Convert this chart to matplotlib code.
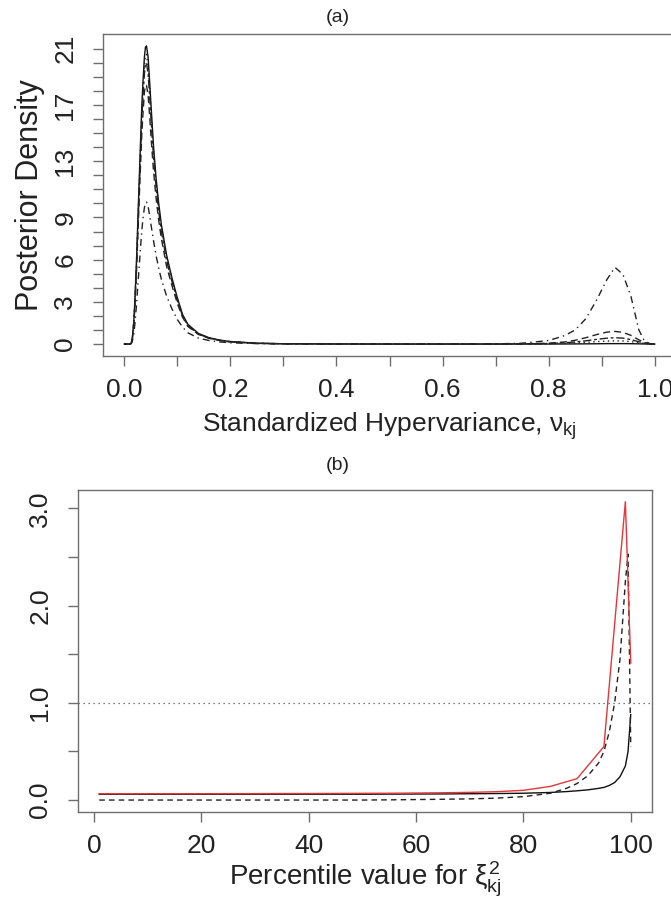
import matplotlib
matplotlib.use("Agg")
import matplotlib.pyplot as plt

plt.rcParams['font.family'] = ['Liberation Sans', 'DejaVu Sans']
plt.rcParams['mathtext.fontset'] = 'custom'
plt.rcParams['mathtext.rm'] = 'Liberation Sans'
plt.rcParams['mathtext.it'] = 'Liberation Sans'

# ---------------- panel (a) data ----------------
nu = [0.000, 0.010, 0.013, 0.015, 0.018, 0.020, 0.023, 0.025, 0.028, 0.030,
      0.033, 0.035, 0.038, 0.040, 0.042, 0.045, 0.048, 0.050, 0.055, 0.060,
      0.065, 0.070, 0.080, 0.090, 0.100, 0.110, 0.120, 0.140, 0.160, 0.180,
      0.200, 0.250, 0.300, 0.400, 0.500, 0.600, 0.700, 0.750, 0.800, 0.830,
      0.850, 0.870, 0.890, 0.910, 0.925, 0.940, 0.955, 0.970, 0.980, 0.990, 1.000]

dens_solid = [0, 0, 0.05, 0.3, 1.6, 3.0, 5.8, 8.0, 11.4, 13.6,
              16.8, 18.4, 20.4, 21.1, 21.2, 20.4, 18.6, 17.3, 14.2, 11.8,
              10.0, 8.5, 6.3, 4.7, 3.3, 2.1, 1.4, 0.75, 0.45, 0.28,
              0.18, 0.06, 0.02, 0.005, 0, 0, 0, 0, 0, 0.005,
              0.01, 0.015, 0.02, 0.03, 0.03, 0.03, 0.025, 0.015, 0.005, 0, 0]
dens_dotted = [0, 0, 0.05, 0.3, 1.5, 2.9, 5.6, 7.8, 11.1, 13.2,
               16.3, 17.9, 19.8, 20.5, 20.6, 19.8, 18.1, 16.8, 13.8, 11.5,
               9.7, 8.3, 6.1, 4.6, 3.2, 2.05, 1.35, 0.73, 0.44, 0.27,
               0.17, 0.06, 0.02, 0.005, 0, 0, 0, 0.005, 0.02, 0.05,
               0.08, 0.12, 0.17, 0.21, 0.23, 0.22, 0.17, 0.09, 0.04, 0.01, 0]
dens_twodash = [0, 0, 0.05, 0.3, 1.5, 2.8, 5.4, 7.5, 10.7, 12.8,
                15.8, 17.4, 19.2, 19.9, 20.0, 19.2, 17.6, 16.3, 13.4, 11.2,
                9.4, 8.0, 5.9, 4.45, 3.1, 2.0, 1.3, 0.7, 0.42, 0.26,
                0.16, 0.05, 0.02, 0.005, 0, 0, 0, 0.01, 0.04, 0.09,
                0.15, 0.23, 0.33, 0.42, 0.45, 0.42, 0.32, 0.16, 0.07, 0.02, 0]
dens_dashed = [0, 0, 0.04, 0.25, 1.3, 2.6, 5.0, 7.0, 10.0, 12.0,
               14.8, 16.2, 17.9, 18.4, 18.4, 17.7, 16.2, 15.0, 12.4, 10.4,
               8.8, 7.5, 5.5, 4.15, 2.9, 1.9, 1.25, 0.68, 0.4, 0.25,
               0.15, 0.05, 0.02, 0.005, 0, 0, 0, 0.015, 0.06, 0.15,
               0.27, 0.45, 0.67, 0.85, 0.9, 0.83, 0.62, 0.3, 0.12, 0.03, 0]
dens_dotdash = [0, 0, 0.02, 0.15, 0.7, 1.4, 2.7, 3.8, 5.4, 6.5,
                8.0, 8.8, 9.7, 10.0, 10.1, 9.8, 9.1, 8.6, 7.4, 6.3,
                5.4, 4.6, 3.4, 2.5, 1.75, 1.2, 0.8, 0.42, 0.25, 0.15,
                0.09, 0.03, 0.01, 0.003, 0, 0, 0.01, 0.06, 0.25, 0.6,
                1.0, 1.8, 3.1, 4.6, 5.45, 4.95, 3.4, 1.0, 0.25, 0.03, 0]

a_yticks = list(range(0, 22))
a_ylabels = ['0', '3', '6', '9', '13', '17', '21']
a_xticks = [0.0, 0.1, 0.2, 0.3, 0.4, 0.5, 0.6, 0.7, 0.8, 0.9, 1.0]
a_xlabels = ['0.0', '0.2', '0.4', '0.6', '0.8', '1.0']

# ---------------- panel (b) data ----------------
red_pct = [1, 5, 10, 15, 20, 25, 30, 35, 40, 45, 50, 55, 60, 65, 70, 75, 80, 85, 90, 95, 99, 100]
red_val = [0.065, 0.065, 0.065, 0.065, 0.065, 0.066, 0.066, 0.067, 0.067, 0.068, 0.069,
           0.070, 0.072, 0.075, 0.079, 0.086, 0.10, 0.14, 0.22, 0.55, 3.07, 1.41]

pct = [1, 5, 10, 15, 20, 25, 30, 35, 40, 45, 50, 55, 60, 65, 70, 75, 80, 85,
       88, 90, 92, 94, 95, 96, 97, 98, 99, 99.5, 100]
solid_val = [0.06, 0.06, 0.06, 0.06, 0.06, 0.06, 0.06, 0.06, 0.06, 0.06, 0.06,
             0.061, 0.062, 0.063, 0.065, 0.067, 0.07, 0.078, 0.087, 0.095, 0.105,
             0.12, 0.13, 0.15, 0.18, 0.24, 0.35, 0.5, 0.88]
dashed_val = [0.0, 0.0, 0.0, 0.0, 0.0, 0.0, 0.0, 0.0, 0.0, 0.0, 0.0,
              0.002, 0.005, 0.008, 0.012, 0.02, 0.035, 0.07, 0.12, 0.17, 0.25,
              0.38, 0.5, 0.7, 1.0, 1.45, 2.25, 2.53, 0.55]
b_ref = 1.0
b_yticks = [0.0, 0.5, 1.0, 1.5, 2.0, 2.5, 3.0]
b_ylabels = ['0.0', '1.0', '2.0', '3.0']
b_xticks = [0, 20, 40, 60, 80, 100]

# ---------------- figure ----------------
W, H = 671, 900
fig = plt.figure(figsize=(W / 100, H / 100), dpi=100)
fig.patch.set_facecolor('white')

edge = '#6e6e6e'
txt = '#222222'
TICKFS = 19
LABFS = 19

def px_axes(l, t, r, b):
    return fig.add_axes([l / W, 1 - b / H, (r - l) / W, (b - t) / H])

def style(ax):
    for s in ax.spines.values():
        s.set_color(edge)
        s.set_linewidth(1.0)
    ax.tick_params(direction='out', length=7.5, width=1.0, color=edge,
                   labelsize=TICKFS, labelcolor=txt)
    ax.tick_params(axis='x', pad=8)
    ax.tick_params(axis='y', pad=11)

# panel (a)
ax1 = px_axes(103, 34, 676, 356)
lw = 1.0
ax1.plot(nu, dens_solid, color='#111111', lw=lw, ls='-')
ax1.plot(nu, dens_dotted, color='#222222', lw=lw, ls=(0, (1, 2.5)))
ax1.plot(nu, dens_twodash, color='#222222', lw=lw, ls=(0, (2, 2, 6, 2)))
ax1.plot(nu, dens_dashed, color='#222222', lw=lw, ls=(0, (5, 3)))
ax1.plot(nu, dens_dotdash, color='#222222', lw=lw, ls=(0, (1, 3, 5, 3)))
ax1.set_xlim(-0.04, 1.04)
ax1.set_ylim(-0.85, 22.05)
ax1.set_yticks(a_yticks)
ax1.set_yticklabels([str(v) if str(v) in a_ylabels else '' for v in a_yticks],
                    rotation=90, va='center')
ax1.set_xticks(a_xticks)
ax1.set_xticklabels([f'{v:.1f}' if f'{v:.1f}' in a_xlabels else '' for v in a_xticks])
style(ax1)
ax1.set_xlabel(r'Standardized Hypervariance, $\nu_{\rm kj}$', fontsize=LABFS,
               color=txt, labelpad=6)
ax1.set_ylabel('Posterior Density', fontsize=22, color=txt, labelpad=6)
fig.text(338 / W, 1 - 18 / H, '(a)', ha='center', va='center', fontsize=14, color=txt)

# panel (b)
ax2 = px_axes(78, 490, 652, 812)
ax2.axhline(b_ref, color='#555555', lw=0.9, ls=(0, (1, 3)))
ax2.plot(pct, solid_val, color='#111111', lw=lw, ls='-')
ax2.plot(pct, dashed_val, color='#222222', lw=lw, ls=(0, (4, 3)))
ax2.plot(red_pct, red_val, color='#e3363a', lw=lw, ls='-')
ax2.set_xlim(-2.96, 103.96)
ax2.set_ylim(-0.123, 3.19)
ax2.set_yticks(b_yticks)
ax2.set_yticklabels([f'{v:.1f}' if f'{v:.1f}' in b_ylabels else '' for v in b_yticks],
                    rotation=90, va='center')
ax2.set_xticks(b_xticks)
ax2.set_xticklabels([str(v) for v in b_xticks])
style(ax2)
ax2.set_xlabel(r'Percentile value for $\xi^{2}_{\rm kj}$', fontsize=LABFS + 1,
               color=txt, labelpad=2)
fig.text(338 / W, 1 - 466 / H, '(b)', ha='center', va='center', fontsize=14, color=txt)

fig.savefig('out.png', dpi=100, facecolor='white')
